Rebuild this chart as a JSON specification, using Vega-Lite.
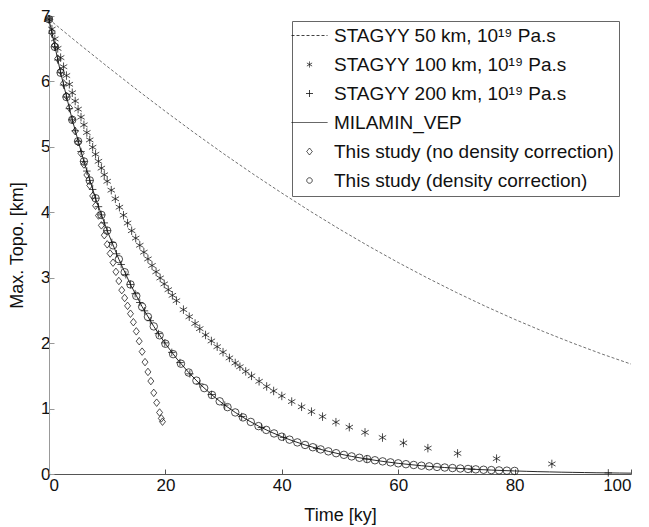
{
  "$schema": "https://vega.github.io/schema/vega-lite/v6.json",
  "width": 582,
  "height": 458,
  "autosize": {"type": "none"},
  "padding": {"left": 49, "top": 16, "right": 18, "bottom": 53},
  "background": "white",
  "config": {
    "font": "Liberation Sans",
    "view": {"stroke": null},
    "axis": {
      "grid": false,
      "labelFontSize": 17,
      "titleFontSize": 18,
      "labelColor": "#111",
      "titleColor": "#111",
      "titleFontWeight": "normal",
      "tickSize": -5,
      "domainWidth": 1,
      "tickWidth": 1
    }
  },
  "data": {
    "values": [
      {"s":"S50","t":0,"h":6.95},{"s":"S50","t":5,"h":6.585},{"s":"S50","t":10,"h":6.229},{"s":"S50","t":15,"h":5.881},{"s":"S50","t":20,"h":5.542},{"s":"S50","t":25,"h":5.213},{"s":"S50","t":30,"h":4.895},{"s":"S50","t":35,"h":4.589},{"s":"S50","t":40,"h":4.294},{"s":"S50","t":45,"h":4.010},{"s":"S50","t":50,"h":3.738},{"s":"S50","t":55,"h":3.479},{"s":"S50","t":60,"h":3.232},{"s":"S50","t":65,"h":2.997},{"s":"S50","t":70,"h":2.774},{"s":"S50","t":75,"h":2.563},{"s":"S50","t":80,"h":2.364},{"s":"S50","t":85,"h":2.176},{"s":"S50","t":90,"h":2.000},{"s":"S50","t":95,"h":1.834},{"s":"S50","t":100,"h":1.680},

      {"s":"MIL","t":0,"h":6.95},{"s":"MIL","t":2,"h":6.133},{"s":"MIL","t":4,"h":5.413},{"s":"MIL","t":6,"h":4.777},{"s":"MIL","t":8,"h":4.215},{"s":"MIL","t":10,"h":3.720},{"s":"MIL","t":12,"h":3.283},{"s":"MIL","t":14,"h":2.897},{"s":"MIL","t":16,"h":2.557},{"s":"MIL","t":18,"h":2.256},{"s":"MIL","t":20,"h":1.991},{"s":"MIL","t":22,"h":1.757},{"s":"MIL","t":24,"h":1.551},{"s":"MIL","t":26,"h":1.368},{"s":"MIL","t":28,"h":1.208},{"s":"MIL","t":30,"h":1.066},{"s":"MIL","t":32,"h":0.941},{"s":"MIL","t":34,"h":0.830},{"s":"MIL","t":36,"h":0.732},{"s":"MIL","t":38,"h":0.646},{"s":"MIL","t":40,"h":0.570},{"s":"MIL","t":42,"h":0.503},{"s":"MIL","t":44,"h":0.444},{"s":"MIL","t":46,"h":0.392},{"s":"MIL","t":48,"h":0.346},{"s":"MIL","t":50,"h":0.305},{"s":"MIL","t":52,"h":0.269},{"s":"MIL","t":54,"h":0.238},{"s":"MIL","t":56,"h":0.210},{"s":"MIL","t":58,"h":0.185},{"s":"MIL","t":60,"h":0.163},{"s":"MIL","t":62,"h":0.144},{"s":"MIL","t":64,"h":0.127},{"s":"MIL","t":66,"h":0.112},{"s":"MIL","t":68,"h":0.099},{"s":"MIL","t":70,"h":0.088},{"s":"MIL","t":72,"h":0.077},{"s":"MIL","t":74,"h":0.068},{"s":"MIL","t":76,"h":0.060},{"s":"MIL","t":78,"h":0.053},{"s":"MIL","t":80,"h":0.047},{"s":"MIL","t":82,"h":0.041},{"s":"MIL","t":84,"h":0.036},{"s":"MIL","t":86,"h":0.032},{"s":"MIL","t":88,"h":0.028},{"s":"MIL","t":90,"h":0.025},{"s":"MIL","t":92,"h":0.022},{"s":"MIL","t":94,"h":0.019},{"s":"MIL","t":96,"h":0.017},{"s":"MIL","t":98,"h":0.015},{"s":"MIL","t":100,"h":0.013},

      {"s":"S100","t":0,"h":6.950},{"s":"S100","t":0.5,"h":6.799},{"s":"S100","t":1,"h":6.650},{"s":"S100","t":1.5,"h":6.505},{"s":"S100","t":2,"h":6.364},{"s":"S100","t":2.5,"h":6.225},{"s":"S100","t":3,"h":6.090},{"s":"S100","t":3.5,"h":5.957},{"s":"S100","t":4,"h":5.827},{"s":"S100","t":4.5,"h":5.700},{"s":"S100","t":5,"h":5.576},{"s":"S100","t":5.5,"h":5.454},{"s":"S100","t":6,"h":5.336},{"s":"S100","t":6.5,"h":5.219},{"s":"S100","t":7,"h":5.106},{"s":"S100","t":7.5,"h":4.994},{"s":"S100","t":8,"h":4.886},{"s":"S100","t":8.5,"h":4.779},{"s":"S100","t":9,"h":4.675},{"s":"S100","t":9.5,"h":4.573},{"s":"S100","t":10,"h":4.474},
      {"s":"S100","t":10.7,"h":4.338},{"s":"S100","t":11.4,"h":4.206},{"s":"S100","t":12.1,"h":4.078},{"s":"S100","t":12.8,"h":3.955},{"s":"S100","t":13.5,"h":3.835},{"s":"S100","t":14.2,"h":3.718},{"s":"S100","t":14.9,"h":3.605},{"s":"S100","t":15.6,"h":3.496},{"s":"S100","t":16.3,"h":3.390},{"s":"S100","t":17.0,"h":3.287},{"s":"S100","t":17.7,"h":3.187},{"s":"S100","t":18.4,"h":3.090},{"s":"S100","t":19.1,"h":2.996},{"s":"S100","t":19.8,"h":2.905},{"s":"S100","t":20.5,"h":2.817},{"s":"S100","t":21.2,"h":2.731},
      {"s":"S100","t":21.9,"h":2.649},{"s":"S100","t":23.1,"h":2.512},{"s":"S100","t":24.1,"h":2.404},{"s":"S100","t":25.1,"h":2.300},{"s":"S100","t":25.9,"h":2.221},{"s":"S100","t":26.9,"h":2.125},{"s":"S100","t":27.9,"h":2.033},{"s":"S100","t":28.9,"h":1.946},{"s":"S100","t":29.9,"h":1.862},{"s":"S100","t":31.0,"h":1.774},{"s":"S100","t":32.0,"h":1.697},{"s":"S100","t":32.8,"h":1.639},{"s":"S100","t":33.8,"h":1.568},{"s":"S100","t":34.8,"h":1.500},{"s":"S100","t":36.1,"h":1.417},{"s":"S100","t":37.4,"h":1.338},{"s":"S100","t":38.6,"h":1.269},{"s":"S100","t":40.0,"h":1.193},{"s":"S100","t":41.7,"h":1.107},{"s":"S100","t":43.4,"h":1.027},{"s":"S100","t":45.1,"h":0.953},{"s":"S100","t":47.0,"h":0.877},{"s":"S100","t":49.3,"h":0.792},{"s":"S100","t":51.6,"h":0.716},{"s":"S100","t":54.3,"h":0.636},{"s":"S100","t":57.3,"h":0.557},{"s":"S100","t":60.9,"h":0.475},{"s":"S100","t":65.1,"h":0.395},{"s":"S100","t":70.2,"h":0.315},{"s":"S100","t":76.9,"h":0.235},{"s":"S100","t":86.4,"h":0.154},

      {"s":"S200","t":0,"h":6.95},{"s":"S200","t":0.5,"h":6.736},{"s":"S200","t":1,"h":6.529},{"s":"S200","t":1.5,"h":6.328},{"s":"S200","t":2,"h":6.133},{"s":"S200","t":2.5,"h":5.945},{"s":"S200","t":3,"h":5.762},{"s":"S200","t":3.5,"h":5.584},{"s":"S200","t":4,"h":5.413},{"s":"S200","t":4.5,"h":5.246},{"s":"S200","t":5,"h":5.085},{"s":"S200","t":5.5,"h":4.928},{"s":"S200","t":6,"h":4.777},{"s":"S200","t":6.5,"h":4.630},{"s":"S200","t":7,"h":4.487},{"s":"S200","t":7.5,"h":4.349},{"s":"S200","t":8,"h":4.215},{"s":"S200","t":8.5,"h":4.086},{"s":"S200","t":9,"h":3.960},{"s":"S200","t":9.5,"h":3.838},{"s":"S200","t":10,"h":3.720},
      {"s":"S200","t":10.8,"h":3.539},{"s":"S200","t":11.6,"h":3.366},{"s":"S200","t":12.4,"h":3.202},{"s":"S200","t":13.2,"h":3.046},{"s":"S200","t":14.0,"h":2.897},{"s":"S200","t":14.8,"h":2.756},{"s":"S200","t":15.6,"h":2.621},{"s":"S200","t":16.4,"h":2.494},{"s":"S200","t":17.4,"h":2.343},{"s":"S200","t":18.8,"h":2.146},{"s":"S200","t":19.9,"h":2.004},{"s":"S200","t":21.1,"h":1.859},{"s":"S200","t":22.5,"h":1.703},{"s":"S200","t":24.2,"h":1.531},{"s":"S200","t":25.9,"h":1.377},{"s":"S200","t":27.9,"h":1.215},{"s":"S200","t":30.2,"h":1.053},{"s":"S200","t":33.1,"h":0.878},{"s":"S200","t":36.5,"h":0.710},{"s":"S200","t":40.3,"h":0.560},{"s":"S200","t":46.0,"h":0.392},{"s":"S200","t":54.6,"h":0.229},{"s":"S200","t":72.6,"h":0.074},{"s":"S200","t":96.1,"h":0.017},

      {"s":"DC","t":0,"h":6.950},{"s":"DC","t":1,"h":6.529},{"s":"DC","t":2,"h":6.133},{"s":"DC","t":3,"h":5.762},{"s":"DC","t":4,"h":5.413},{"s":"DC","t":5,"h":5.085},{"s":"DC","t":6,"h":4.777},{"s":"DC","t":7,"h":4.487},{"s":"DC","t":8,"h":4.215},{"s":"DC","t":9,"h":3.960},{"s":"DC","t":10,"h":3.720},{"s":"DC","t":11,"h":3.495},{"s":"DC","t":12,"h":3.283},{"s":"DC","t":13,"h":3.084},{"s":"DC","t":14,"h":2.897},{"s":"DC","t":15,"h":2.722},{"s":"DC","t":16,"h":2.557},{"s":"DC","t":17,"h":2.402},{"s":"DC","t":18,"h":2.256},{"s":"DC","t":19,"h":2.120},{"s":"DC","t":20,"h":1.991},
      {"s":"DC","t":21.33,"h":1.832},{"s":"DC","t":22.67,"h":1.686},{"s":"DC","t":24,"h":1.551},{"s":"DC","t":25.33,"h":1.427},{"s":"DC","t":26.67,"h":1.313},{"s":"DC","t":28,"h":1.208},{"s":"DC","t":29.33,"h":1.111},{"s":"DC","t":30.67,"h":1.022},{"s":"DC","t":32,"h":0.941},{"s":"DC","t":33.33,"h":0.865},{"s":"DC","t":34.67,"h":0.796},{"s":"DC","t":36,"h":0.732},{"s":"DC","t":37.33,"h":0.674},{"s":"DC","t":38.67,"h":0.620},{"s":"DC","t":40,"h":0.570},{"s":"DC","t":41.33,"h":0.525},{"s":"DC","t":42.67,"h":0.483},{"s":"DC","t":44,"h":0.444},{"s":"DC","t":45.33,"h":0.409},{"s":"DC","t":46.67,"h":0.376},{"s":"DC","t":48,"h":0.346},{"s":"DC","t":49.33,"h":0.318},{"s":"DC","t":50.67,"h":0.293},{"s":"DC","t":52,"h":0.269},{"s":"DC","t":53.33,"h":0.248},{"s":"DC","t":54.67,"h":0.228},{"s":"DC","t":56,"h":0.210},{"s":"DC","t":57.33,"h":0.193},{"s":"DC","t":58.67,"h":0.178},{"s":"DC","t":60,"h":0.163},{"s":"DC","t":61.33,"h":0.150},{"s":"DC","t":62.67,"h":0.138},{"s":"DC","t":64,"h":0.127},{"s":"DC","t":65.33,"h":0.117},{"s":"DC","t":66.67,"h":0.108},{"s":"DC","t":68,"h":0.099},{"s":"DC","t":69.33,"h":0.091},{"s":"DC","t":70.67,"h":0.084},{"s":"DC","t":72,"h":0.077},{"s":"DC","t":73.33,"h":0.071},{"s":"DC","t":74.67,"h":0.065},{"s":"DC","t":76,"h":0.060},{"s":"DC","t":77.33,"h":0.055},{"s":"DC","t":78.67,"h":0.051},{"s":"DC","t":80,"h":0.047},

      {"s":"NDC","t":0,"h":6.95},{"s":"NDC","t":0.5,"h":6.75},{"s":"NDC","t":1,"h":6.55},{"s":"NDC","t":1.5,"h":6.35},{"s":"NDC","t":2,"h":6.16},{"s":"NDC","t":2.5,"h":5.97},{"s":"NDC","t":3,"h":5.78},{"s":"NDC","t":3.5,"h":5.60},{"s":"NDC","t":4,"h":5.42},{"s":"NDC","t":4.5,"h":5.24},{"s":"NDC","t":5,"h":5.07},{"s":"NDC","t":5.5,"h":4.90},{"s":"NDC","t":6,"h":4.73},{"s":"NDC","t":6.5,"h":4.57},{"s":"NDC","t":7,"h":4.41},{"s":"NDC","t":7.5,"h":4.25},{"s":"NDC","t":8,"h":4.10},{"s":"NDC","t":8.5,"h":3.95},{"s":"NDC","t":9,"h":3.80},{"s":"NDC","t":9.5,"h":3.65},{"s":"NDC","t":10,"h":3.51},{"s":"NDC","t":10.5,"h":3.37},{"s":"NDC","t":11,"h":3.23},{"s":"NDC","t":11.5,"h":3.09},{"s":"NDC","t":12,"h":2.95},{"s":"NDC","t":12.5,"h":2.81},{"s":"NDC","t":13,"h":2.69},{"s":"NDC","t":13.5,"h":2.57},{"s":"NDC","t":14,"h":2.45},{"s":"NDC","t":14.5,"h":2.32},{"s":"NDC","t":15,"h":2.18},{"s":"NDC","t":15.5,"h":2.03},{"s":"NDC","t":16,"h":1.87},{"s":"NDC","t":16.5,"h":1.71},{"s":"NDC","t":17,"h":1.56},{"s":"NDC","t":17.5,"h":1.42},{"s":"NDC","t":18,"h":1.24},{"s":"NDC","t":18.5,"h":1.09},{"s":"NDC","t":19,"h":0.94},{"s":"NDC","t":19.3,"h":0.85},{"s":"NDC","t":19.5,"h":0.80}
    ]
  },
  "encoding": {
    "x": {
      "field": "t", "type": "quantitative",
      "scale": {"domain": [0, 100], "nice": false, "zero": false},
      "axis": {"title": "Time [ky]", "values": [0, 20, 40, 60, 80, 100], "domainColor": "#555", "tickColor": "#555", "labelPadding": 8, "titlePadding": 13}
    },
    "y": {
      "field": "h", "type": "quantitative",
      "scale": {"domain": [0, 7], "nice": false},
      "axis": {"title": "Max. Topo. [km]", "values": [0, 1, 2, 3, 4, 5, 6, 7], "domainColor": "#999", "tickColor": "#999", "labelPadding": 4, "titlePadding": 14}
    }
  },
  "layer": [
    {
      "transform": [{"filter": "datum.s === 'S50'"}],
      "mark": {"type": "line", "color": "#333", "strokeWidth": 0.7, "strokeDash": [3, 2]}
    },
    {
      "transform": [{"filter": "datum.s === 'MIL'"}],
      "mark": {"type": "line", "color": "#111", "strokeWidth": 0.9}
    },
    {
      "transform": [{"filter": {"field": "s", "oneOf": ["S100", "S200", "NDC", "DC"]}}],
      "mark": {"type": "point", "filled": false, "color": "#111", "strokeWidth": 0.75, "opacity": 1},
      "encoding": {
        "size": {"condition": {"test": "datum.s === 'S100'", "value": 72}, "value": 56},
        "shape": {
          "field": "s", "type": "nominal",
          "scale": {
            "domain": ["S50", "S100", "S200", "MIL", "NDC", "DC"],
            "range": ["stroke", "M0,-1L0,1M-0.87,-0.5L0.87,0.5M-0.87,0.5L0.87,-0.5", "M-1,0L1,0M0,-1L0,1", "stroke", "M0,-1L0.8,0L0,1L-0.8,0Z", "circle"]
          },
          "legend": {
            "title": null,
            "orient": "none",
            "legendX": 243,
            "legendY": 5,
            "padding": 5,
            "rowPadding": 9,
            "labelOffset": 15,
            "symbolOffset": 3,
            "labelFontSize": 19,
            "labelColor": "#111",
            "labelLimit": 500,
            "strokeColor": "#666",
            "fillColor": "white",
            "symbolSize": 900,
            "symbolStrokeColor": "#111",
            "symbolStrokeWidth": 0.8,
            "symbolFillColor": "transparent",
            "labelExpr": "datum.value === 'S50' ? 'STAGYY 50 km, 10¹⁹ Pa.s' : datum.value === 'S100' ? 'STAGYY 100 km, 10¹⁹ Pa.s' : datum.value === 'S200' ? 'STAGYY 200 km, 10¹⁹ Pa.s' : datum.value === 'MIL' ? 'MILAMIN_VEP' : datum.value === 'NDC' ? 'This study (no density correction)' : 'This study (density correction)'",
            "encoding": {
              "symbols": {
                "size": {"value": {"expr": "datum.value === 'S50' || datum.value === 'MIL' ? 1296 : datum.value === 'S100' ? 36 : datum.value === 'DC' ? 30 : 49"}},
                "strokeDash": {"value": {"expr": "datum.value === 'S50' ? [3, 2] : [1, 0]"}}
              }
            }
          }
        }
      }
    }
  ]
}
